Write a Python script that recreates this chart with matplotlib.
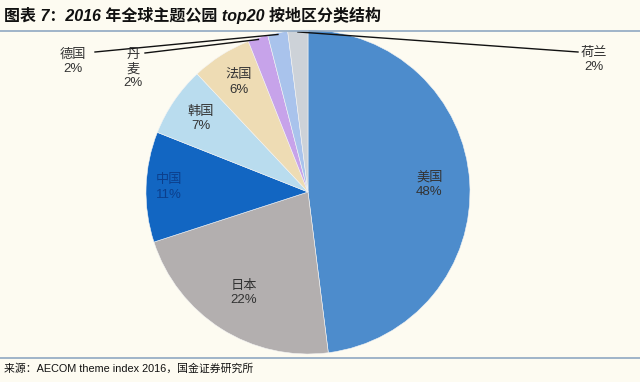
import numpy as np
import matplotlib.pyplot as plt

plt.rcParams['font.family'] = ['Liberation Sans', 'Noto Sans CJK SC']

# data
regions = ['美国', '日本', '中国', '韩国', '法国', '丹麦', '德国', '荷兰']
shares = [48, 22, 11, 7, 6, 2, 2, 2]
colors = ['#4d8ccc', '#b3afaf', '#1266c2', '#b9dcee', '#eedcb4',
          '#c7a3ea', '#a9c3ec', '#cdd2d8']

title = '图表 7：2016 年全球主题公园 top20 按地区分类结构'
source = '来源：AECOM theme index 2016，国金证券研究所'

bg = '#fdfbf1'
fig = plt.figure(figsize=(6.4, 3.82), dpi=100, facecolor=bg)
ax = fig.add_axes([0, 0, 1, 1])

cx, cy, r = 308, 190, 162
wedges, _ = ax.pie(shares, colors=colors, startangle=90, counterclock=False,
                   center=(cx, cy), radius=r, frame=True,
                   wedgeprops=dict(edgecolor='#f4f4f4', linewidth=0.4))
ax.set_xlim(0, 640)
ax.set_ylim(0, 382)
ax.set_aspect('equal')
ax.axis('off')

# inside labels: radial fraction per slice
inner = {0: 0.75, 1: 0.74, 2: 0.86, 3: 0.8, 4: 0.8}
for i, w in enumerate(wedges):
    ang = np.deg2rad((w.theta1 + w.theta2) / 2)
    lab = f'{regions[i]}\n{shares[i]}%'
    if i in inner:
        f = inner[i]
        col = '#0c3f8c' if i == 2 else '#333333'
        ax.text(cx + f * r * np.cos(ang), cy + f * r * np.sin(ang), lab,
                ha='center', va='center', fontsize=9.5, color=col,
                linespacing=1.25)

# outside labels with leader lines
outside = {5: ((145, 382 - 53), (133, 382 - 69), '丹\n麦\n2%'),
           6: ((95, 382 - 52), (73, 382 - 62), None),
           7: ((578, 382 - 52), (594, 382 - 60), None)}
for i, (end, tpos, txt) in outside.items():
    w = wedges[i]
    ang = np.deg2rad((w.theta1 + w.theta2) / 2)
    start = (cx + 0.99 * r * np.cos(ang), cy + 0.99 * r * np.sin(ang))
    ax.plot([start[0], end[0]], [start[1], end[1]], color='#111111', lw=1.0)
    lab = txt if txt else f'{regions[i]}\n{shares[i]}%'
    ax.text(tpos[0], tpos[1], lab, ha='center', va='center', fontsize=9.5,
            color='#333333', linespacing=1.25)

# frame lines, title and source
ax.plot([0, 640], [382 - 30.5, 382 - 30.5], color='#8fa8c2', lw=1.2)
ax.plot([0, 640], [382 - 357.5, 382 - 357.5], color='#8fa8c2', lw=1.2)
ax.text(4, 382 - 15, title, ha='left', va='center', fontsize=11.5,
        fontweight='bold', style='italic', color='#111111')
ax.text(4, 382 - 369, source, ha='left', va='center', fontsize=7.8,
        color='#111111')

fig.savefig('out.png', dpi=100, facecolor=bg)
